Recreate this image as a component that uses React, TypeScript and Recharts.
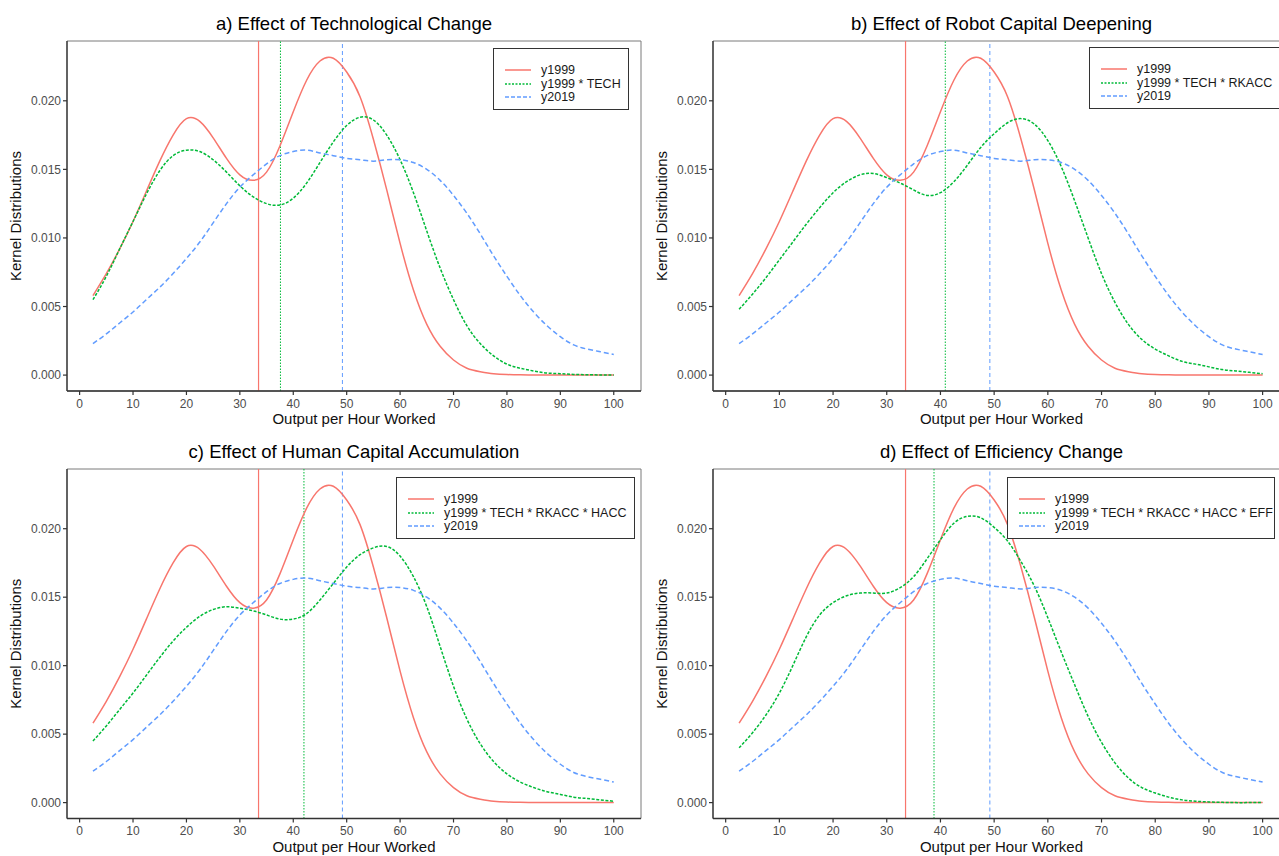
import { LineChart, Line, XAxis, YAxis, ReferenceLine, ReferenceArea, Label } from 'recharts';

// output per hour worked (grid the densities are read on)
const xs = [
  2.5, 5, 7.5, 10, 12.5, 15, 17.5, 20, 22.5, 25, 27.5, 30, 32.5, 35, 37.5, 40, 42.5, 45, 47.5, 50,
  52.5, 55, 57.5, 60, 62.5, 65, 67.5, 70, 72.5, 75, 77.5, 80, 82.5, 85, 87.5, 90, 92.5, 95, 97.5, 100,
];

const y1999 = [
  0.0058, 0.0074, 0.0092, 0.0112, 0.0134, 0.0156, 0.0175, 0.0187, 0.0185, 0.0173, 0.0158, 0.0146, 0.0142, 0.0148, 0.0167, 0.0192, 0.0215, 0.0229, 0.0231, 0.0221,
  0.0203, 0.0172, 0.0135, 0.0096, 0.0062, 0.0037, 0.0021, 0.0011, 0.0005, 0.00025, 0.0001, 0.00004, 0.00002, 0.00001, 0, 0, 0, 0, 0, 0,
];

const y2019 = [
  0.0023, 0.003, 0.0038, 0.0046, 0.0055, 0.0064, 0.0074, 0.0085, 0.0097, 0.0111, 0.0125, 0.0137, 0.0146, 0.0154, 0.016, 0.0163, 0.0164, 0.0162, 0.016, 0.0158,
  0.0157, 0.0156, 0.0157, 0.0157, 0.0155, 0.015, 0.0142, 0.0131, 0.0118, 0.0103, 0.0087, 0.0072, 0.0058, 0.0046, 0.0036, 0.0028, 0.0022, 0.0019, 0.0017, 0.0015,
];

const tech = [
  0.0055, 0.0072, 0.0092, 0.0112, 0.0132, 0.0149, 0.016, 0.0164, 0.0163, 0.0157, 0.0148, 0.0138, 0.013, 0.0125, 0.0124, 0.0129, 0.014, 0.0155, 0.017, 0.0182,
  0.0188, 0.0186, 0.0175, 0.0157, 0.0133, 0.0105, 0.0078, 0.0055, 0.0036, 0.0023, 0.0014, 0.0008, 0.0005, 0.0003, 0.00015, 0.0001, 0.00005, 0.00003, 0.00001, 0,
];

const techRk = [
  0.0048, 0.0059, 0.0071, 0.0084, 0.0097, 0.011, 0.0122, 0.0133, 0.0141, 0.0146, 0.0147, 0.0144, 0.014, 0.0135, 0.0131, 0.0133, 0.0141, 0.0153, 0.0166, 0.0176,
  0.0184, 0.0187, 0.0183, 0.0171, 0.0152, 0.0127, 0.01, 0.0074, 0.0053, 0.0037, 0.0026, 0.0019, 0.0014, 0.001, 0.0008, 0.0006, 0.0004, 0.0003, 0.0002, 0.0001,
];

const techRkH = [
  0.0045, 0.0056, 0.0068, 0.008, 0.0093, 0.0106, 0.0118, 0.0128, 0.0136, 0.0141, 0.0143, 0.0142, 0.014, 0.0137, 0.0134, 0.0134, 0.0138, 0.0148, 0.016, 0.0172,
  0.0181, 0.0186, 0.0187, 0.018, 0.0165, 0.0143, 0.0114, 0.0085, 0.0061, 0.0043, 0.003, 0.0021, 0.0015, 0.0011, 0.0008, 0.0006, 0.0004, 0.0003, 0.0002, 0.0001,
];

const techRkHEff = [
  0.004, 0.0051, 0.0064, 0.008, 0.01, 0.0121, 0.0137, 0.0146, 0.0151, 0.0153, 0.0153, 0.0153, 0.0157, 0.0165, 0.0178, 0.0192, 0.0204, 0.0209, 0.0208, 0.0201,
  0.0191, 0.0176, 0.0158, 0.0135, 0.011, 0.0086, 0.0063, 0.0044, 0.0029, 0.0018, 0.0011, 0.0007, 0.0004, 0.0002, 0.0001, 0.00005, 0.00002, 0, 0, 0,
];

// means drawn as vertical lines
const mean1999 = 33.5;
const mean2019 = 49.2;
const greenMeans = [37.6, 40.9, 42.0, 38.8];

const titles = [
  'a) Effect of Technological Change',
  'b) Effect of Robot Capital Deepening',
  'c) Effect of Human Capital Accumulation',
  'd) Effect of Efficiency Change',
];
const greenNames = [
  'y1999 * TECH',
  'y1999 * TECH * RKACC',
  'y1999 * TECH * RKACC * HACC',
  'y1999 * TECH * RKACC * HACC * EFF',
];
const greenSeries = [tech, techRk, techRkH, techRkHEff];

const xTicks = [0, 10, 20, 30, 40, 50, 60, 70, 80, 90, 100];
const yTicks = [0, 0.005, 0.01, 0.015, 0.02];

const RED = '#F8766D';
const GREEN = '#00BA38';
const BLUE = '#619CFF';
const FONT = '"Liberation Sans", Arial, sans-serif';
const X_DOMAIN = [-2.36, 105.1];
const Y_DOMAIN = [-0.00116, 0.02436];

// placement of each panel on the page
const layout = [
  { left: 0, top: 0, yW: 67, plotW: 574, plotTop: 41, plotH: 350, h: 430, yLab: 16, xLabOff: 6, legend: { left: 493, top: 48, width: 136 } },
  { left: 640, top: 0, yW: 73, plotW: 577, plotTop: 41, plotH: 350, h: 430, yLab: 22, xLabOff: 6, legend: { left: 1089, top: 47, width: 205 } },
  { left: 0, top: 430, yW: 67, plotW: 574, plotTop: 39, plotH: 349.5, h: 426, yLab: 16, xLabOff: 4, legend: { left: 396, top: 477, width: 239 } },
  { left: 640, top: 430, yW: 73, plotW: 577, plotTop: 39, plotH: 349.5, h: 426, yLab: 22, xLabOff: 4, legend: { left: 1007, top: 477, width: 268 } },
];

function LegendBox({ name, pos }) {
  const items = [
    { label: 'y1999', color: RED, dash: undefined },
    { label: name, color: GREEN, dash: '2 1.5' },
    { label: 'y2019', color: BLUE, dash: '4 2' },
  ];
  return (
    <div
      style={{
        position: 'absolute',
        left: pos.left,
        top: pos.top,
        width: pos.width,
        height: 62,
        border: '1.5px solid #333',
        background: '#fff',
        boxSizing: 'border-box',
        fontFamily: FONT,
        fontSize: 12.5,
        color: '#1a1a1a',
      }}
    >
      {items.map((it, i) => (
        <div key={it.label} style={{ position: 'absolute', left: 0, top: 14 + i * 13.5, height: 14, whiteSpace: 'nowrap' }}>
          <svg width={40} height={14} style={{ position: 'absolute', left: 0, top: 0 }}>
            <line x1={11} x2={37} y1={7} y2={7} stroke={it.color} strokeWidth={1.5} strokeDasharray={it.dash} />
          </svg>
          <span style={{ position: 'absolute', left: 47, top: -1, lineHeight: '16px' }}>{it.label}</span>
        </div>
      ))}
    </div>
  );
}

function Panel({ idx }) {
  const L = layout[idx];
  const green = greenSeries[idx];
  const data = xs.map((x, i) => ({ x, y1999: y1999[i], green: green[i], y2019: y2019[i] }));
  const width = L.yW + L.plotW + 10;
  const xAxisH = L.h - L.plotTop - L.plotH;
  const tickStyle = { fontSize: 12, fill: '#4d4d4d', fontFamily: FONT };

  return (
    <div style={{ position: 'absolute', left: L.left, top: L.top, width, height: L.h }}>
      <div
        style={{
          position: 'absolute',
          left: L.yW,
          width: L.plotW,
          top: L.plotTop - 28,
          textAlign: 'center',
          fontFamily: FONT,
          fontSize: 18.5,
          color: '#000',
          whiteSpace: 'nowrap',
        }}
      >
        {titles[idx]}
      </div>
      <LineChart
        width={width}
        height={L.h}
        data={data}
        margin={{ top: L.plotTop, right: 10, bottom: 0, left: 0 }}
        style={{ fontFamily: FONT }}
      >
        <ReferenceArea
          x1={X_DOMAIN[0]}
          x2={X_DOMAIN[1]}
          y1={Y_DOMAIN[0]}
          y2={Y_DOMAIN[1]}
          fill="none"
          stroke="#7a7a7a"
          strokeWidth={1}
        />
        <XAxis
          dataKey="x"
          type="number"
          domain={X_DOMAIN}
          allowDataOverflow
          ticks={xTicks}
          interval={0}
          height={xAxisH}
          tick={tickStyle}
          tickSize={4}
          tickMargin={4}
          axisLine={{ stroke: '#333', strokeWidth: 1.3 }}
          tickLine={{ stroke: '#333', strokeWidth: 1.2 }}
        >
          <Label value="Output per Hour Worked" position="insideBottom" offset={L.xLabOff} style={{ fontSize: 15, fill: '#111', fontFamily: FONT }} />
        </XAxis>
        <YAxis
          type="number"
          domain={Y_DOMAIN}
          allowDataOverflow
          ticks={yTicks}
          interval={0}
          width={L.yW}
          tick={tickStyle}
          tickSize={4}
          tickMargin={2}
          tickFormatter={(v) => v.toFixed(3)}
          axisLine={{ stroke: '#333', strokeWidth: 1.3 }}
          tickLine={{ stroke: '#333', strokeWidth: 1.2 }}
        >
          <Label
            value="Kernel Distributions"
            angle={-90}
            position="insideLeft"
            offset={L.yLab}
            style={{ fontSize: 15, fill: '#111', fontFamily: FONT, textAnchor: 'middle' }}
          />
        </YAxis>
        <ReferenceLine x={mean1999} stroke={RED} strokeOpacity={1} strokeWidth={1.2} />
        <ReferenceLine x={greenMeans[idx]} stroke={GREEN} strokeWidth={1} strokeDasharray="1.5 1.5" />
        <ReferenceLine x={mean2019} stroke={BLUE} strokeWidth={1} strokeDasharray="4 3" />
        <Line type="natural" dataKey="y1999" stroke={RED} strokeWidth={1.5} dot={false} isAnimationActive={false} />
        <Line type="natural" dataKey="green" stroke={GREEN} strokeWidth={1.5} strokeDasharray="3 1.6" dot={false} isAnimationActive={false} />
        <Line type="natural" dataKey="y2019" stroke={BLUE} strokeWidth={1.5} strokeDasharray="5 3" dot={false} isAnimationActive={false} />
      </LineChart>
      <LegendBox name={greenNames[idx]} pos={{ ...L.legend, left: L.legend.left - L.left, top: L.legend.top - L.top }} />
    </div>
  );
}

export default function App() {
  return (
    <div
      style={{
        position: 'absolute',
        left: 0,
        top: 0,
        width: 1279,
        height: 856,
        overflow: 'hidden',
        background: '#fff',
      }}
    >
      {[0, 1, 2, 3].map((i) => (
        <Panel key={i} idx={i} />
      ))}
    </div>
  );
}
